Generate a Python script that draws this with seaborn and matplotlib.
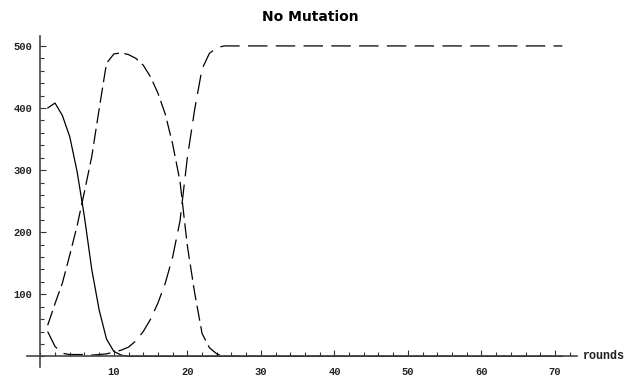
import matplotlib
matplotlib.use("Agg")
import matplotlib.pyplot as plt
import seaborn as sns
import pandas as pd
import numpy as np
from matplotlib.ticker import MultipleLocator

sns.set_style("white")
plt.rcParams['font.family'] = ['DejaVu Sans']
plt.rcParams['lines.scale_dashes'] = False

rounds = list(range(1, 72))

series_a = [400, 408, 388, 354, 298, 225, 140, 75, 28, 8, 2, 0] + [0] * 59
series_b = [50, 85, 118, 163, 210, 265, 322, 398, 472, 487, 489, 486, 480, 469,
            450, 424, 390, 342, 282, 178, 102, 37, 14, 4, 0] + [0] * 46
series_c = [40, 16, 5, 3, 3, 3, 2, 3, 4, 7, 10, 15, 25, 40, 60, 86, 118, 160,
            218, 320, 398, 463, 488, 497, 500] + [500] * 46

title = "No Mutation"
xlabel = "rounds"

df = pd.DataFrame({
    "rounds": rounds * 3,
    "value": series_a + series_b + series_c,
    "series": ["A"] * len(rounds) + ["B"] * len(rounds) + ["C"] * len(rounds),
})

W, H = 633, 376
fig = plt.figure(figsize=(W / 100, H / 100), dpi=100)
ax = fig.add_axes([27 / W, (H - 367) / H, 550 / W, 331 / H])

sns.lineplot(data=df[df.series == "A"], x="rounds", y="value", ax=ax,
             color="black", linewidth=0.9, legend=False)
sns.lineplot(data=df[df.series == "B"], x="rounds", y="value", ax=ax,
             color="black", linewidth=0.9, legend=False)
sns.lineplot(data=df[df.series == "C"], x="rounds", y="value", ax=ax,
             color="black", linewidth=0.9, legend=False)
lines = ax.get_lines()
lines[1].set_linestyle((0, (11, 4)))
lines[2].set_linestyle((0, (14, 6)))

ax.set_xlim(-1.81, 73.0)
ax.set_ylim(-17.1, 516)

for s in ["top", "right"]:
    ax.spines[s].set_visible(False)
ax.spines["left"].set_position(("data", 0))
ax.spines["bottom"].set_position(("data", 0))
for s in ["left", "bottom"]:
    ax.spines[s].set_color("#444444")
    ax.spines[s].set_linewidth(1.2)

ax.set_xticks([10, 20, 30, 40, 50, 60, 70])
ax.set_yticks([100, 200, 300, 400, 500])
ax.xaxis.set_minor_locator(MultipleLocator(2))
ax.yaxis.set_minor_locator(MultipleLocator(20))

ax.tick_params(axis="both", which="both", direction="in", color="#333333",
               width=0.8, bottom=True, left=True, top=False, right=False)
ax.tick_params(axis="both", which="major", length=4)
ax.tick_params(axis="both", which="minor", length=3)
ax.tick_params(axis="x", which="major", pad=8)
ax.tick_params(axis="y", which="major", pad=6)
for lab in ax.get_xticklabels() + ax.get_yticklabels():
    lab.set_fontfamily("Liberation Mono")
    lab.set_fontweight("bold")
    lab.set_fontsize(7.5)
    lab.set_color("#222222")

ax.set_xlabel("")
ax.set_ylabel("")
ax.grid(False)

ax.text(73.8, 0, xlabel, fontfamily="Liberation Mono", fontweight="bold",
        fontsize=8.5, color="#222222", ha="left", va="center", clip_on=False)

fig.text(310 / W, 1 - 17 / H, title, fontsize=10, fontweight="bold",
         ha="center", va="center", color="black")

fig.savefig("out.png", dpi=100)
